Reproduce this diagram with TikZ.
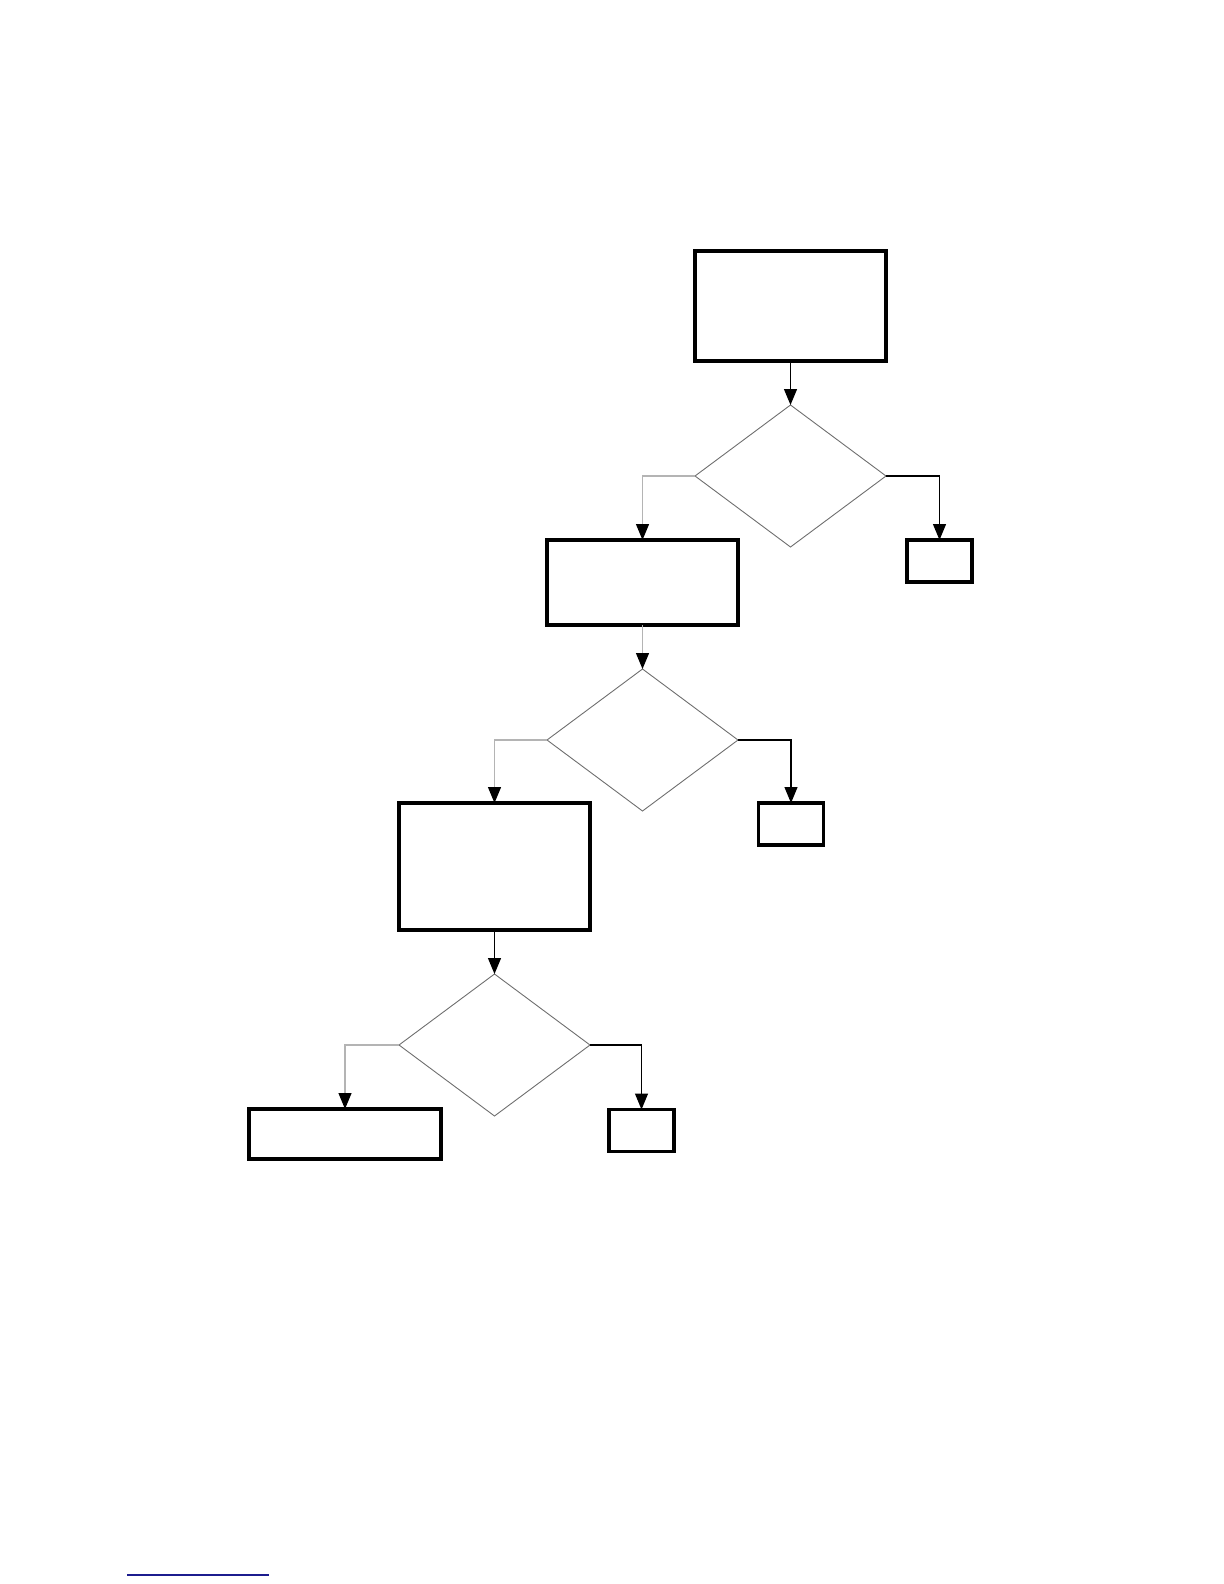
\documentclass[tikz,border=0pt]{standalone}
\usepackage{tikz}
\usetikzlibrary{arrows.meta,shapes.geometric}
\definecolor{lightline}{HTML}{B4B4B4}
\definecolor{edgegray}{HTML}{6E6E6E}
\definecolor{rulenavy}{HTML}{1C1C8E}

\begin{document}
\begin{tikzpicture}[x=0.5pt, y=-0.5pt,
  proc/.style={draw, line width=1.8pt, rectangle, inner sep=0pt, outer sep=0pt, minimum width=95.5pt},
  dec/.style={draw=edgegray, line width=0.45pt, diamond, inner sep=0pt, outer sep=0pt, minimum width=95.5pt, minimum height=71pt},
  stopbox/.style={proc, minimum width=32.5pt, minimum height=21pt},
  flow/.style={line width=0.6pt, -{Triangle[length=8pt, width=6.5pt, color=black]}},
  flowgray/.style={flow, draw=lightline}]
\useasboundingbox (0,0) rectangle (1224,1584);
% process boxes
\node[proc, minimum height=55pt] (P1) at (790.5,306) {};
\node[proc, minimum height=42.5pt] (P2) at (642.5,582.5) {};
\node[proc, minimum height=63.5pt] (P3) at (494.5,866.5) {};
\node[proc, minimum width=96pt, minimum height=25pt] (P4) at (345,1134) {};
% decisions
\node[dec] (D1) at (790.5,476) {};
\node[dec] (D2) at (642.5,740) {};
\node[dec] (D3) at (494.5,1045) {};
% end boxes
\node[stopbox] (S1) at (939.5,561) {};
\node[stopbox] (S2) at (791,824) {};
\node[stopbox] (S3) at (641.5,1130.5) {};
% connectors
\draw[flow] (P1.south) -- (D1.north);
\draw[flowgray] (D1.west) -| (P2.north);
\draw[flow] (D1.east) -| (S1.north);
\draw[flowgray] (P2.south) -- (D2.north);
\draw[flowgray] (D2.west) -| (P3.north);
\draw[flow] (D2.east) -| (S2.north);
\draw[flow] (P3.south) -- (D3.north);
\draw[flowgray] (D3.west) -| (P4.north);
\draw[flow] (D3.east) -| (S3.north);
% footnote rule
\coordinate (R1) at (127,1575);
\coordinate (R2) at (269,1575);
\draw[rulenavy, line width=0.8pt] (R1) -- (R2);
\end{tikzpicture}
\end{document}
